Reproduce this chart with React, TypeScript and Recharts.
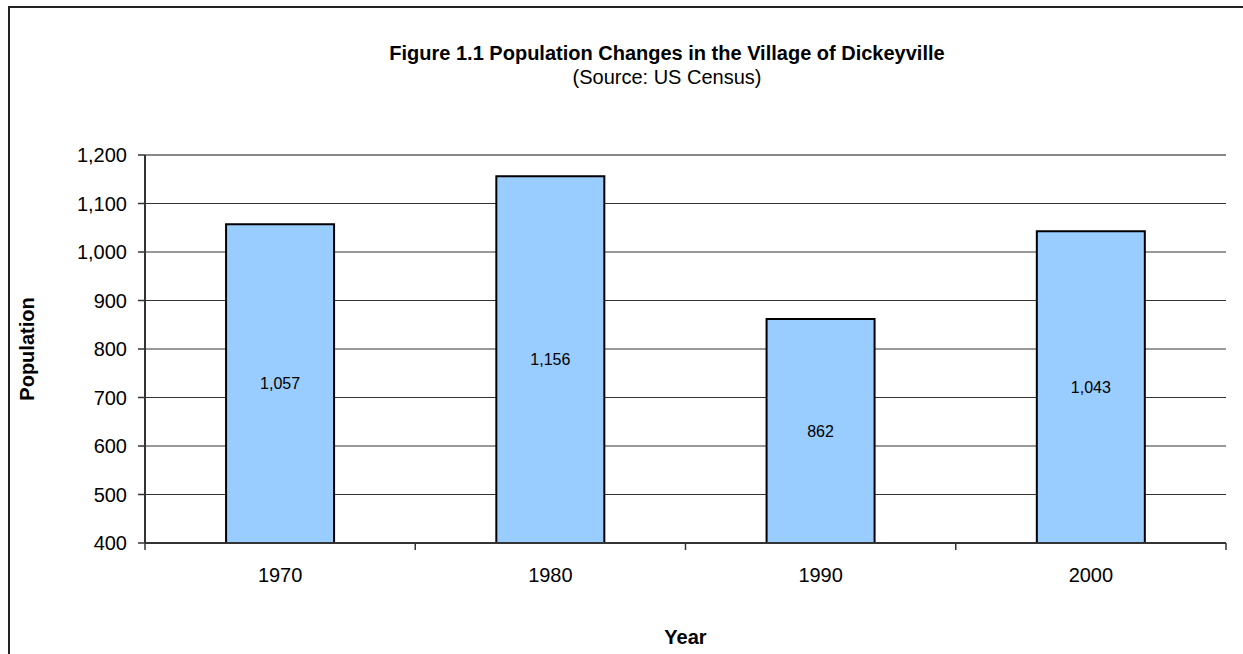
import React from 'react';
import {
  BarChart,
  Bar,
  XAxis,
  YAxis,
  CartesianGrid,
  ReferenceLine,
  LabelList,
  Label,
} from 'recharts';

const years = ['1970', '1980', '1990', '2000'];
const population = [1057, 1156, 862, 1043];
const yTicks = [400, 500, 600, 700, 800, 900, 1000, 1100, 1200];

const titleText = 'Figure 1.1 Population Changes in the Village of Dickeyville';
const subtitleText = '(Source: US Census)';
const yAxisTitle = 'Population';
const xAxisTitle = 'Year';

const data = years.map((y, i) => ({ year: y, population: population[i] }));

const FONT = '"Liberation Sans", Arial, Helvetica, sans-serif';
const fmt = (v: number) => Number(v).toLocaleString('en-US');

const XTick = (props: any) => {
  const { x, y, payload, index } = props;
  const off = payload && typeof payload.offset === 'number' && payload.offset > 0 ? payload.offset : 135;
  const last = index === years.length - 1;
  return (
    <g>
      <line x1={x - off} y1={y} x2={x - off} y2={y + 7} stroke="#333" strokeWidth={1.5} />
      {last && <line x1={x + off} y1={y} x2={x + off} y2={y + 7} stroke="#333" strokeWidth={1.5} />}
      <text x={x} y={y + 39} textAnchor="middle" fontSize={20} fill="#000" fontFamily={FONT}>
        {payload.value}
      </text>
    </g>
  );
};

const XTitle = (props: any) => {
  const vb = props.viewBox || { x: 145, y: 543, width: 1081, height: 111 };
  return (
    <text x={vb.x + vb.width / 2} y={vb.y + 101} textAnchor="middle" fontSize={20} fontWeight="bold" fill="#000" fontFamily={FONT}>
      {xAxisTitle}
    </text>
  );
};

const YTitle = (props: any) => {
  const vb = props.viewBox || { x: 0, y: 155, width: 145, height: 388 };
  const cx = vb.x + 34;
  const cy = vb.y + vb.height / 2;
  return (
    <text x={cx} y={cy} transform={`rotate(-90, ${cx}, ${cy})`} textAnchor="middle" fontSize={20} fontWeight="bold" fill="#000" fontFamily={FONT}>
      {yAxisTitle}
    </text>
  );
};

export default function App() {
  return (
    <div style={{ position: 'absolute', left: 0, top: 0, width: 1243, height: 654, overflow: 'hidden', background: '#fff', fontFamily: FONT }}>
      <div
        style={{
          position: 'absolute',
          left: 8,
          top: 6,
          width: 1300,
          height: 700,
          borderTop: '2px solid #222',
          borderLeft: '2px solid #222',
          boxSizing: 'border-box',
        }}
      />
      <div style={{ position: 'absolute', left: 0, top: 42, width: 1334, textAlign: 'center', fontSize: 20, fontWeight: 'bold', lineHeight: '23px', color: '#000' }}>
        {titleText}
      </div>
      <div style={{ position: 'absolute', left: 0, top: 66, width: 1334, textAlign: 'center', fontSize: 20, lineHeight: '23px', color: '#000' }}>
        {subtitleText}
      </div>
      <div style={{ position: 'absolute', left: 0, top: 0 }}>
        <BarChart
          width={1243}
          height={654}
          data={data}
          margin={{ top: 155, right: 17, bottom: 0, left: 0 }}
          barCategoryGap="30%"
        >
          <CartesianGrid vertical={false} stroke="#333" strokeWidth={1} />
          <XAxis
            dataKey="year"
            height={111}
            axisLine={{ stroke: '#333', strokeWidth: 2 }}
            tickLine={false}
            tickSize={0}
            tickMargin={0}
            tick={<XTick />}
            interval={0}
          >
            <Label content={<XTitle />} />
          </XAxis>
          <YAxis
            width={145}
            domain={[400, 1200]}
            ticks={yTicks}
            allowDataOverflow
            interval={0}
            tickFormatter={fmt}
            axisLine={{ stroke: '#333', strokeWidth: 2 }}
            tickLine={{ stroke: '#333', strokeWidth: 1.5 }}
            tickSize={7}
            tickMargin={11}
            tick={{ fill: '#000', fontSize: 20, fontFamily: FONT }}
          >
            <Label content={<YTitle />} />
          </YAxis>
          <YAxis
            yAxisId="right"
            orientation="right"
            width={0}
            tick={false}
            tickLine={false}
            axisLine={{ stroke: '#888', strokeWidth: 2 }}
          />
          <ReferenceLine y={1200} stroke="#888" strokeWidth={2} />
          <Bar dataKey="population" fill="#99CCFF" stroke="#000" strokeWidth={2} isAnimationActive={false}>
            <LabelList
              dataKey="population"
              position="center"
              formatter={fmt}
              fill="#000"
              fontSize={16}
              fontFamily={FONT}
            />
          </Bar>
        </BarChart>
      </div>
    </div>
  );
}
